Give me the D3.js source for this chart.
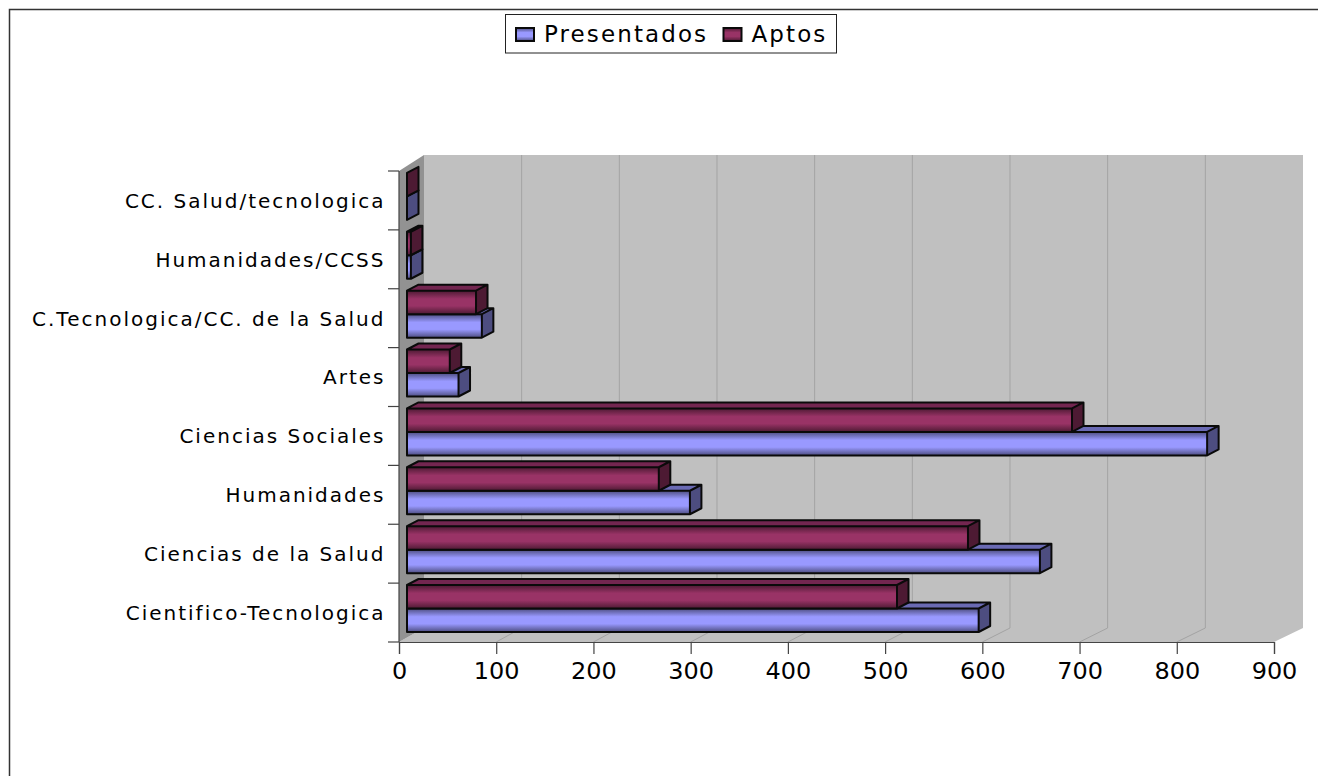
<!DOCTYPE html>
<html>
<head>
<meta charset="utf-8">
<script src="https://cdn.jsdelivr.net/npm/d3@7"></script>
<style>
body { margin: 0; background: #fff; }
text { font-family: "DejaVu Sans", sans-serif; fill: #000; }
</style>
</head>
<body>
<div id="chart"></div>
<script>
// Data, bottom category first
var categories = ["Cientifico-Tecnologica", "Ciencias de la Salud", "Humanidades", "Ciencias Sociales",
    "Artes", "C.Tecnologica/CC. de la Salud", "Humanidades/CCSS", "CC. Salud/tecnologica"];
var presentados = [588, 651, 291, 823, 53, 77, 4, 0];
var aptos = [504, 577, 259, 684, 44, 71, 4, 0];
var xTicks = [0, 100, 200, 300, 400, 500, 600, 700, 800, 900];

var width = 1318, height = 776;

var svg = d3.select("#chart").append("svg")
    .attr("width", width)
    .attr("height", height)
    .style("display", "block");

// Vertical gradients for the bar fronts
var defs = svg.append("defs");
function addGradient(id, edge, mid) {
    var g = defs.append("linearGradient").attr("id", id)
        .attr("x1", 0).attr("y1", 0).attr("x2", 0).attr("y2", 1);
    g.append("stop").attr("offset", "0%").attr("stop-color", edge);
    g.append("stop").attr("offset", "35%").attr("stop-color", mid);
    g.append("stop").attr("offset", "65%").attr("stop-color", mid);
    g.append("stop").attr("offset", "100%").attr("stop-color", edge);
}
addGradient("gradPres", "#4d4d80", "#9999ff");
addGradient("gradApt", "#4d1a33", "#993366");

// Outer frame
svg.append("path")
    .attr("d", "M9.5," + height + "V9.5H" + width)
    .attr("fill", "none").attr("stroke", "#333").attr("stroke-width", 1.5);

// Scales: front edge of the floor, back wall, and the plane the bars stand on
var xFront = d3.scaleLinear().domain([0, 900]).range([399, 1274]);
var xBack = d3.scaleLinear().domain([0, 900]).range([424, 1303]);
var xBar = d3.scaleLinear().domain([0, 900]).range([407, 1282]);
var yBand = d3.scaleBand().domain(categories).range([642, 171]);

var wallTop = 155, wallBottom = 628, floorY = 642, leftTop = 171;

// Walls and floor
svg.append("rect")
    .attr("x", xBack(0)).attr("y", wallTop)
    .attr("width", xBack(900) - xBack(0)).attr("height", wallBottom - wallTop)
    .attr("fill", "#c0c0c0");
svg.append("polygon")
    .attr("points", [[xFront(0), floorY], [xFront(900), floorY], [xBack(900), wallBottom], [xBack(0), wallBottom]].join(" "))
    .attr("fill", "#c0c0c0");
svg.append("polygon")
    .attr("points", [[xFront(0), leftTop], [xBack(0), wallTop], [xBack(0), wallBottom], [xFront(0), floorY]].join(" "))
    .attr("fill", "#929292");

// Gridlines on wall and floor
svg.append("g").selectAll("path")
    .data(xTicks.slice(1, -1))
    .enter().append("path")
    .attr("d", function (d) {
        return "M" + xBack(d) + "," + wallTop + "V" + wallBottom + "L" + xFront(d) + "," + floorY;
    })
    .attr("fill", "none")
    .attr("stroke", "#a3a3a3")
    .attr("stroke-width", 1);

// Draw one 3D bar
function drawBar(g, value, top, h, front, topFace, sideFace) {
    var x0 = xBar(0), x1 = xBar(value), dx = 11.5, dy = 6;
    g.append("polygon")
        .attr("points", [[x0, top], [x0 + dx, top - dy], [x1 + dx, top - dy], [x1, top]].join(" "))
        .attr("fill", topFace);
    g.append("polygon")
        .attr("points", [[x1, top], [x1 + dx, top - dy], [x1 + dx, top + h - dy], [x1, top + h]].join(" "))
        .attr("fill", sideFace);
    g.append("rect")
        .attr("x", x0).attr("y", top)
        .attr("width", x1 - x0).attr("height", h)
        .attr("fill", front);
    g.append("path")
        .attr("d", "M" + x0 + "," + top + "L" + (x0 + dx) + "," + (top - dy) + "H" + (x1 + dx) +
            "V" + (top + h - dy) + "L" + x1 + "," + (top + h) + "H" + x0 + "Z" +
            "M" + x0 + "," + top + "H" + x1 + "L" + (x1 + dx) + "," + (top - dy) + "M" + x1 + "," + top + "V" + (top + h))
        .attr("fill", "none")
        .attr("stroke", "#0a0a0a")
        .attr("stroke-width", 2)
        .attr("stroke-linejoin", "round");
}

// Top category first so the lower ones sit in front
var barH = 23.5;
var bars = svg.append("g");
categories.map(function (c, i) { return i; }).reverse().forEach(function (i) {
    var bottom = yBand(categories[i]) + yBand.bandwidth() - 10;
    var g = bars.append("g");
    drawBar(g.append("g"), presentados[i], bottom - barH, barH, "url(#gradPres)", "#6a6ab4", "#4d4d80");
    drawBar(g.append("g"), aptos[i], bottom - 2 * barH, barH, "url(#gradApt)", "#732650", "#4d1a33");
});

// Bottom axis
var xAxis = d3.axisBottom(xFront).tickValues(xTicks).tickSize(12).tickPadding(8);
var gx = svg.append("g")
    .attr("transform", "translate(0," + floorY + ")")
    .call(xAxis);
gx.selectAll("text")
    .style("font-size", "23.5px")
    .attr("fill", "#000")
    .attr("transform", "scale(1.02,1)");
gx.selectAll("line, path").attr("stroke", "#444").attr("stroke-width", 1.2);

// Left axis: ticks on band edges, labels in the middle
svg.append("g").selectAll("line")
    .data(d3.range(categories.length + 1))
    .enter().append("line")
    .attr("x1", 388).attr("x2", xFront(0))
    .attr("y1", function (d) { return yBand.range()[0] - d * yBand.step(); })
    .attr("y2", function (d) { return yBand.range()[0] - d * yBand.step(); })
    .attr("stroke", "#444").attr("stroke-width", 1.2);
svg.append("line")
    .attr("x1", xFront(0)).attr("x2", xFront(0))
    .attr("y1", leftTop).attr("y2", floorY)
    .attr("stroke", "#444").attr("stroke-width", 1.2);

var yAxis = d3.axisLeft(yBand).tickSize(0).tickPadding(0);
var gy = svg.append("g")
    .attr("transform", "translate(385.5,1)")
    .call(yAxis);
gy.select(".domain").remove();
gy.selectAll("text")
    .style("font-size", "20px")
    .style("letter-spacing", "2px")
    .attr("fill", "#000");

// Legend
var legend = svg.append("g");
legend.append("rect")
    .attr("x", 505.5).attr("y", 14.5).attr("width", 331).attr("height", 38.5)
    .attr("fill", "#fff").attr("stroke", "#222").attr("stroke-width", 1);
var legendNames = ["Presentados", "Aptos"];
var legendFills = ["url(#gradPres)", "url(#gradApt)"];
var legendX = d3.scaleOrdinal().domain(legendNames).range([516, 723.5]);
legendNames.forEach(function (name, i) {
    legend.append("rect")
        .attr("x", legendX(name)).attr("y", 28).attr("width", 18).attr("height", 13)
        .attr("fill", legendFills[i]).attr("stroke", "#0a0a0a").attr("stroke-width", 2);
    legend.append("text")
        .attr("x", legendX(name) + 28).attr("y", 42)
        .style("font-size", "23px")
        .style("letter-spacing", "2.1px")
        .text(name);
});
</script>
</body>
</html>
